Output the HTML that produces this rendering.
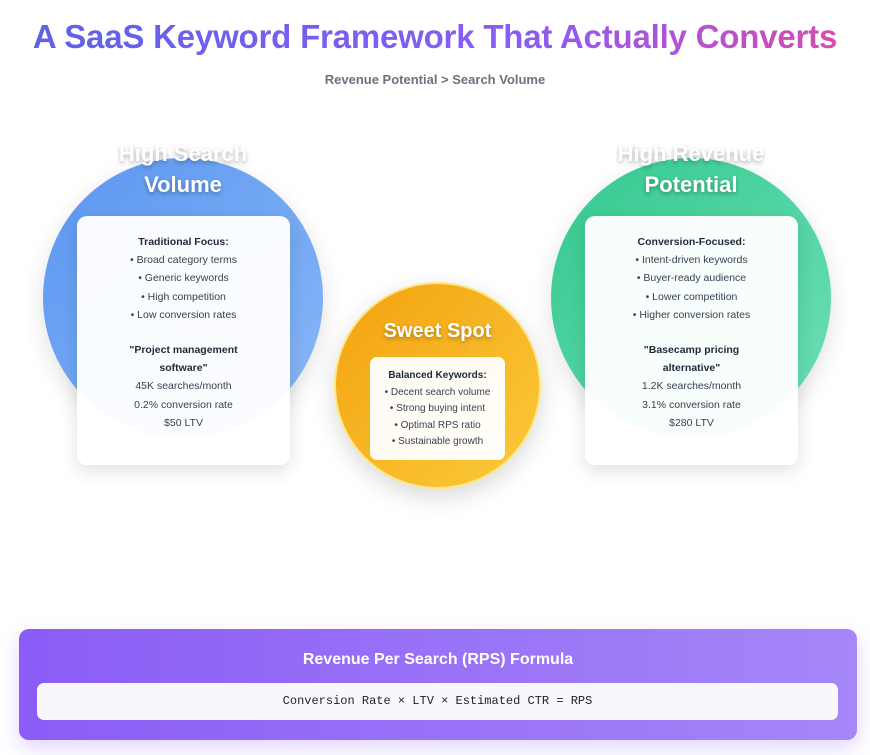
<!DOCTYPE html>
<html><head><meta charset="utf-8"><style>
*{margin:0;padding:0;box-sizing:border-box}
body{width:870px;height:755px;background:#fff;font-family:"Liberation Sans",sans-serif;position:relative;overflow:hidden}
.abs{position:absolute}
h1{position:absolute;left:0;width:870px;top:18px;text-align:center;font-size:33px;font-weight:bold;letter-spacing:-0.2px;background:linear-gradient(90deg,#5b62e6,#8b5cf6 60%,#dd4aa8);-webkit-background-clip:text;background-clip:text;color:transparent}
.sub{top:72px;width:870px;text-align:center;font-size:13px;color:#6b7280;font-weight:bold}
.circ{border-radius:50%}
.ct{color:#fff;font-weight:bold;text-align:center;text-shadow:0 2px 4px rgba(0,0,0,.3)}
.card{background:rgba(255,255,255,.96);border-radius:10px;box-shadow:0 6px 18px rgba(0,0,0,.12);text-align:center;font-size:10.5px;color:#374151;line-height:18.2px}
.card b{color:#1f2937}
</style></head><body>
<h1>A SaaS Keyword Framework That Actually Converts</h1>
<div class="abs sub">Revenue Potential &gt; Search Volume</div>

<div class="abs circ" style="left:43px;top:158px;width:280px;height:280px;background:linear-gradient(135deg,#5b96f0,#8ab8f8);box-shadow:0 8px 24px rgba(0,0,0,.12)"></div>
<div class="abs ct" style="left:43px;width:280px;top:138px;font-size:22px;line-height:31px">High Search<br>Volume</div>
<div class="abs card" style="left:77px;top:216px;width:213px;height:249px;padding-top:17px">
<b>Traditional Focus:</b><br>• Broad category terms<br>• Generic keywords<br>• High competition<br>• Low conversion rates<br>
<div style="height:17px"></div><b>"Project management<br>software"</b><br>45K searches/month<br>0.2% conversion rate<br>$50 LTV</div>

<div class="abs circ" style="left:551px;top:158px;width:280px;height:280px;background:linear-gradient(135deg,#34c88e,#6ee0b8);box-shadow:0 8px 24px rgba(0,0,0,.12)"></div>
<div class="abs ct" style="left:551px;width:280px;top:138px;font-size:22px;line-height:31px">High Revenue<br>Potential</div>
<div class="abs card" style="left:585px;top:216px;width:213px;height:249px;padding-top:17px">
<b>Conversion-Focused:</b><br>• Intent-driven keywords<br>• Buyer-ready audience<br>• Lower competition<br>• Higher conversion rates<br>
<div style="height:17px"></div><b>"Basecamp pricing<br>alternative"</b><br>1.2K searches/month<br>3.1% conversion rate<br>$280 LTV</div>

<div class="abs circ" style="left:334px;top:282px;width:207px;height:207px;background:linear-gradient(135deg,#f3a20f,#fbca3a);border:2px solid #fde68a;box-shadow:0 8px 24px rgba(0,0,0,.15)"></div>
<div class="abs ct" style="left:334px;width:207px;top:320px;font-size:20px">Sweet Spot</div>
<div class="abs card" style="left:370px;top:357px;width:135px;height:103px;padding-top:11px;font-size:10px;line-height:16.5px;border-radius:7px;box-shadow:none"><b>Balanced Keywords:</b><br>• Decent search volume<br>• Strong buying intent<br>• Optimal RPS ratio<br>• Sustainable growth</div>

<div class="abs" style="left:19px;top:629px;width:838px;height:111px;border-radius:10px;background:linear-gradient(90deg,#8b5cf6,#a587f8);box-shadow:0 8px 20px rgba(139,92,246,.25)"></div>
<div class="abs" style="left:19px;width:838px;top:651px;text-align:center;color:#fff;font-weight:bold;font-size:16px">Revenue Per Search (RPS) Formula</div>
<div class="abs" style="left:37px;top:683px;width:801px;height:37px;border-radius:7px;background:#f8f8fc;text-align:center;line-height:37px;font-family:'Liberation Mono',monospace;font-size:12px;color:#222">Conversion Rate × LTV × Estimated CTR = RPS</div>
</body></html>
